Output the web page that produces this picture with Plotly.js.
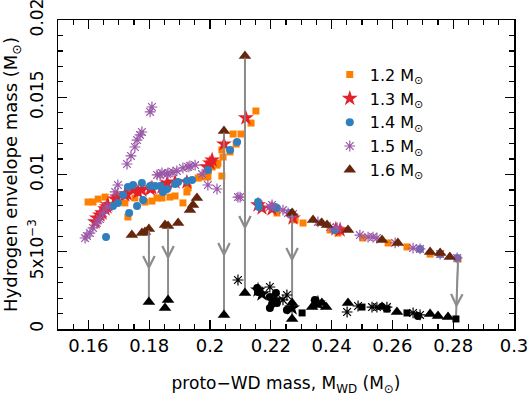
<!DOCTYPE html>
<html><head><meta charset="utf-8">
<script src="https://cdn.plot.ly/plotly-3.0.1.min.js"></script>
<style>html,body{margin:0;padding:0;background:#fff}#chart{width:529px;height:400px}</style>
</head><body><div id="chart"></div>
<script>
// ---- data ----
const seriesNames = ["1.2 M<sub>⊙</sub>", "1.3 M<sub>⊙</sub>", "1.4 M<sub>⊙</sub>", "1.5 M<sub>⊙</sub>", "1.6 M<sub>⊙</sub>"];

// 1.2 Msun (orange squares): initial and final (black)
const m12x = [0.1599,0.1615,0.1632,0.1655,0.1720,0.1730,0.1753,0.1786,0.1809,0.1826,0.1842,0.1868,0.1885,0.1911,0.1924,0.1928,0.1961,0.1974,0.1993,0.1993,0.2007,0.2023,0.2026,0.2039,0.2043,0.2039,0.2066,0.2076,0.2086,0.2102,0.2135,0.2151,0.2220,0.2280,0.2306,0.2395,0.2421,0.2503,0.2586,0.2648,0.2724,0.2757,0.2816];
const m12y = [0.00822,0.00822,0.00841,0.00854,0.00816,0.00725,0.00848,0.00822,0.00828,0.00848,0.00848,0.00854,0.00861,0.00816,0.00887,0.00913,0.00977,0.00984,0.00984,0.01016,0.01049,0.01061,0.01074,0.00990,0.01113,0.01159,0.01146,0.01262,0.01197,0.01262,0.01333,0.01411,0.00751,0.00706,0.00686,0.00641,0.00621,0.00589,0.00557,0.00531,0.00485,0.00485,0.00453];
const m12fx = [0.2303,0.2500,0.2582,0.2648,0.2809];
const m12fy = [0.00104,0.00142,0.00129,0.00104,0.00065];

// 1.3 Msun (red stars)
const m13x = [0.1622,0.1628,0.1638,0.1645,0.1655,0.1661,0.1664,0.1688,0.1694,0.1720,0.1727,0.1747,0.1763,0.1776,0.1803,0.1809,0.1842,0.1859,0.1885,0.1924,0.1990,0.2000,0.2007,0.2046,0.2118,0.2158,0.2171,0.2204,0.2273,0.2414,0.2428];
const m13y = [0.00693,0.00718,0.00738,0.00751,0.00777,0.00790,0.00803,0.00841,0.00854,0.00867,0.00874,0.00900,0.00887,0.00900,0.00906,0.00913,0.00919,0.00945,0.00951,0.00951,0.01049,0.01074,0.01094,0.01197,0.01366,0.00803,0.00783,0.00777,0.00718,0.00647,0.00641];
const m13fx = [0.2158,0.2171,0.2214,0.2270,0.2355];
const m13fy = [0.00252,0.00227,0.00188,0.00136,0.00168];

// 1.4 Msun (blue circles)
const m14x = [0.1658,0.1681,0.1697,0.1714,0.1730,0.1747,0.1776,0.1734,0.1760,0.1780,0.1803,0.1819,0.1836,0.1845,0.1859,0.1885,0.1895,0.1924,0.1941,0.1993,0.2066,0.2089,0.2158,0.2161,0.2214,0.2220,0.2263,0.2411,0.2691,0.2757,0.2813];
const m14y = [0.00595,0.00796,0.00816,0.00867,0.00919,0.00932,0.00945,0.00751,0.00796,0.00835,0.00926,0.00926,0.00926,0.00887,0.00906,0.00939,0.00951,0.00958,0.00964,0.01029,0.01159,0.01210,0.00822,0.00790,0.00790,0.00783,0.00751,0.00641,0.00518,0.00485,0.00460];
const m14fx = [0.2155,0.2158,0.2197,0.2217,0.2204,0.2220,0.2197,0.2253,0.2345,0.2684];
const m14fy = [0.00265,0.00239,0.00207,0.00233,0.00162,0.00168,0.00136,0.00123,0.00188,0.00084];

// 1.5 Msun (purple asterisks)
const m15x = [0.1589,0.1595,0.1605,0.1615,0.1628,0.1638,0.1648,0.1661,0.1688,0.1697,0.1727,0.1740,0.1753,0.1760,0.1770,0.1776,0.1803,0.1809,0.1826,0.1836,0.1842,0.1859,0.1862,0.1878,0.1891,0.1911,0.1928,0.1934,0.1951,0.1974,0.1993,0.2023,0.2092,0.2099,0.2197,0.2204,0.2240,0.2257,0.2273,0.2355,0.2395,0.2418,0.2493,0.2520,0.2536,0.2549,0.2609,0.2668,0.2691,0.2757,0.2813];
const m15y = [0.00589,0.00602,0.00621,0.00654,0.00686,0.00712,0.00751,0.00790,0.00887,0.00932,0.01068,0.01120,0.01178,0.01223,0.01256,0.01275,0.01405,0.01437,0.00997,0.00997,0.01010,0.01003,0.01010,0.01016,0.01023,0.01042,0.01049,0.01055,0.01061,0.01003,0.00932,0.00906,0.00854,0.00854,0.00790,0.00803,0.00770,0.00751,0.00744,0.00693,0.00660,0.00654,0.00608,0.00595,0.00595,0.00589,0.00557,0.00524,0.00518,0.00485,0.00460];
const m15fx = [0.2092,0.2197,0.2240,0.2253,0.2451,0.2487,0.2533,0.2549,0.2582,0.2668,0.2691];
const m15fy = [0.00317,0.00272,0.00188,0.00220,0.00110,0.00149,0.00142,0.00142,0.00142,0.00104,0.00091];

// 1.6 Msun (brown triangles)
const m16x = [0.1743,0.1776,0.1786,0.1799,0.1852,0.1862,0.1895,0.1934,0.1944,0.1957,0.2046,0.2115,0.2270,0.2339,0.2368,0.2385,0.2454,0.2566,0.2618,0.2724,0.2757,0.2789];
const m16y = [0.00608,0.00621,0.00628,0.00647,0.00673,0.00667,0.00686,0.00770,0.00803,0.00848,0.01282,0.01767,0.00751,0.00706,0.00686,0.00673,0.00641,0.00576,0.00557,0.00498,0.00492,0.00466];
const m16fx = [0.1799,0.1852,0.1862,0.2046,0.2115,0.2270,0.2270,0.2336,0.2349,0.2368,0.2382,0.2454,0.2566,0.2615,0.2724,0.2750,0.2783];
const m16fy = [0.00175,0.00136,0.00188,0.00091,0.00233,0.00168,0.00065,0.00142,0.00155,0.00168,0.00142,0.00168,0.00142,0.00110,0.00097,0.00084,0.00078];

// arrows (initial -> final)
const arrX0 = [0.1799,0.1862,0.2046,0.2115,0.2270,0.2816];
const arrY0 = [0.00647,0.00667,0.01282,0.01767,0.00751,0.00453];
const arrX1 = [0.1799,0.1862,0.2046,0.2115,0.2270,0.2809];
const arrY1 = [0.00175,0.00188,0.00091,0.00233,0.00065,0.00065];
const arrHeadY = [0.00382,0.00447,0.00466,0.00641,0.00434,0.00136];

// axis ticks
const xTickVals = [0.16,0.18,0.2,0.22,0.24,0.26,0.28,0.3];
const xTickText = ["0.16","0.18","0.2","0.22","0.24","0.26","0.28","0.3"];
const yTickVals = [0,0.005,0.01,0.015,0.02];
const yTickText = ["0","5x10<sup>−3</sup>","0.01","0.015","0.02"];

// ---- styles ----
const colors = ["#ff8000","#e3212b","#2f7fbf","#9a58a8","#66260b"];
const symbols = ["square","star","circle","asterisk-open","triangle-up"];
const sizes = [7,12,8,9,11];
const initX = [m12x,m13x,m14x,m15x,m16x], initY = [m12y,m13y,m14y,m15y,m16y];
const finX = [m12fx,m13fx,m14fx,m15fx,m16fx], finY = [m12fy,m13fy,m14fy,m15fy,m16fy];

function mk(s, col) {
  const isLine = symbols[s] === "asterisk-open";
  return isLine ? {symbol: symbols[s], size: sizes[s], color: col, line: {color: col, width: 1.2}}
                : {symbol: symbols[s], size: sizes[s], color: col, line: {width: 0}};
}

const traces = [];
// arrow shafts
const lx = [], ly = [];
for (let i = 0; i < arrX0.length; i++) { lx.push(arrX0[i], arrX1[i], null); ly.push(arrY0[i], arrY1[i], null); }
traces.push({x: lx, y: ly, mode: "lines", line: {color: "#8c8c8c", width: 2}, showlegend: false, hoverinfo: "skip"});

for (let s = 0; s < 5; s++) {
  traces.push({x: initX[s], y: initY[s], mode: "markers", name: seriesNames[s], marker: mk(s, colors[s])});
}
for (let s = 0; s < 5; s++) {
  traces.push({x: finX[s], y: finY[s], mode: "markers", showlegend: false, marker: mk(s, "#000")});
}

const annotations = arrX0.map((x, i) => ({
  x: x + (arrX1[i] - x) * (arrY0[i] - arrHeadY[i]) / (arrY0[i] - arrY1[i]), y: arrHeadY[i],
  ax: x, ay: arrY0[i], axref: "x", ayref: "y", xref: "x", yref: "y",
  text: "", showarrow: true, arrowhead: 5, arrowsize: 1.5, arrowwidth: 1.5, arrowcolor: "#8c8c8c"
}));

const axisCommon = {
  showline: true, linecolor: "#000", linewidth: 1.5, mirror: "allticks",
  ticks: "inside", ticklen: 9, tickwidth: 1.2, tickcolor: "#000",
  showgrid: false, zeroline: false, fixedrange: true,
  ticklabeloverflow: "allow"
};

const layout = {
  width: 529, height: 400,
  margin: {l: 58, r: 15, t: 20, b: 71},
  paper_bgcolor: "#fff", plot_bgcolor: "#fff",
  font: {family: "DejaVu Sans", size: 16, color: "#000"},
  showlegend: true,
  legend: {x: 0.596, y: 0.878, xanchor: "left", yanchor: "top", bgcolor: "rgba(0,0,0,0)", font: {size: 16}},
  xaxis: Object.assign({}, axisCommon, {
    range: [0.15, 0.30], tickmode: "array", tickvals: xTickVals, ticktext: xTickText,
    ticklabelstandoff: 0, tickfont: {size: 18},
    minor: {tickmode: "linear", tick0: 0.15, dtick: 0.005, ticks: "inside", ticklen: 5, tickwidth: 1.2, tickcolor: "#000"},
    title: {text: "proto−WD mass, M<sub>WD</sub> (M<sub>⊙</sub>)", font: {size: 17}, standoff: 22}
  }),
  yaxis: Object.assign({}, axisCommon, {
    range: [0, 0.02000001], tickmode: "array", tickvals: yTickVals, ticktext: yTickText,
    tickangle: -90, ticklabelstandoff: 7, tickfont: {size: 17},
    minor: {tickmode: "linear", tick0: 0, dtick: 0.001, ticks: "inside", ticklen: 5, tickwidth: 1.2, tickcolor: "#000"},
    title: {text: "Hydrogen envelope mass (M<sub>⊙</sub>)", font: {size: 18}, standoff: 7}
  }),
  annotations: annotations
};

Plotly.newPlot("chart", traces, layout, {displayModeBar: false, staticPlot: true});
</script></body></html>
